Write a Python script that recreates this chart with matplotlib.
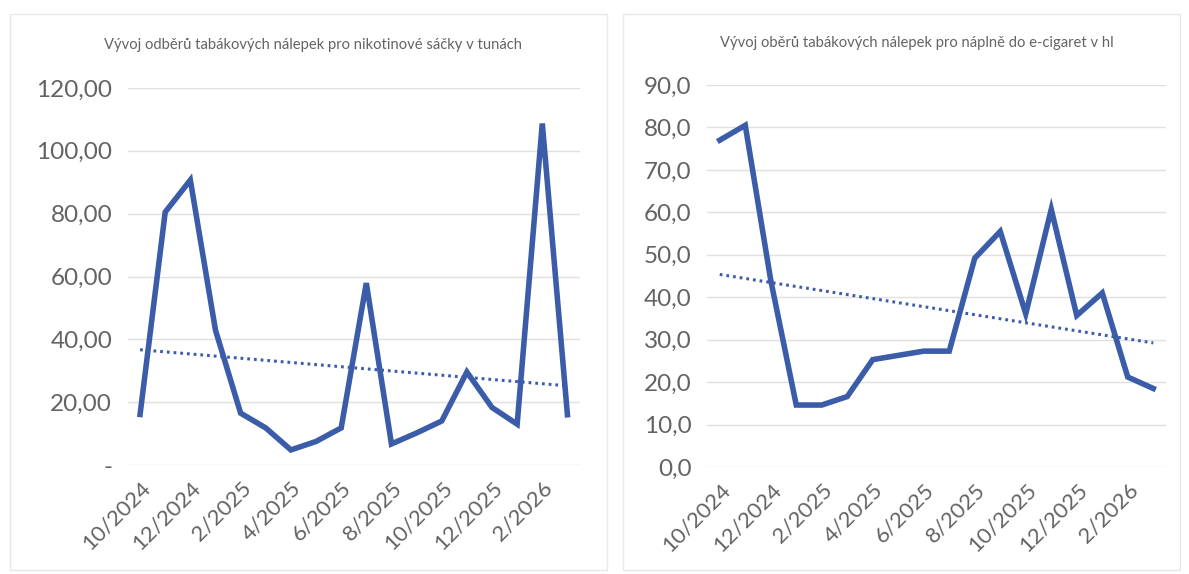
import numpy as np
import matplotlib
matplotlib.use("Agg")
import matplotlib.pyplot as plt
from matplotlib.patches import Rectangle

plt.rcParams['font.family'] = ['Lato', 'DejaVu Sans']

# data: months 10/2024 .. 3/2026
months = ['10/2024', '11/2024', '12/2024', '1/2025', '2/2025', '3/2025',
          '4/2025', '5/2025', '6/2025', '7/2025', '8/2025', '9/2025',
          '10/2025', '11/2025', '12/2025', '1/2026', '2/2026', '3/2026']

sacky = [16.1, 80.5, 90.7, 42.9, 16.5, 11.8, 4.8, 7.5, 11.8, 57.9,
         6.7, 10.2, 14.0, 29.6, 18.3, 13.0, 108.7, 16.0]

napln = [77.0, 80.5, 44.0, 14.6, 14.6, 16.6, 25.3, 26.3, 27.3, 27.3,
         49.2, 55.5, 36.1, 60.7, 35.7, 41.0, 21.2, 18.5]

title_left = 'Vývoj odběrů tabákových nálepek pro nikotinové sáčky v tunách'
title_right = 'Vývoj oběrů tabákových nálepek pro náplně do e-cigaret v hl'

line_col = '#3b5ca9'
text_col = '#636363'
grid_col = '#e0e0e0'

fig = plt.figure(figsize=(11.89, 5.74), dpi=100)
fig.patch.set_facecolor('white')

# faint frames of the two chart objects
fig.patches.append(Rectangle((10/1189, 1-570/574), 597/1189, 556/574,
                             transform=fig.transFigure, fill=False,
                             edgecolor='#e8e8e8', lw=1))
fig.patches.append(Rectangle((623/1189, 1-570/574), 557/1189, 556/574,
                             transform=fig.transFigure, fill=False,
                             edgecolor='#e8e8e8', lw=1))


def draw(ax, vals, ymax, step, fmt, zero_label, title, title_x, title_y):
    x = np.arange(len(vals))
    ax.plot(x, vals, color=line_col, lw=4.0, solid_joinstyle='miter')
    k, b = np.polyfit(x, vals, 1)
    ax.plot(x, k * x + b, color=line_col, lw=2.2, ls=(0, (0.9, 1.3)))
    ax.set_xlim(-0.5, len(vals) - 0.5)
    ax.set_ylim(0, ymax)
    yt = np.arange(0, ymax + step / 2, step)
    ax.set_yticks(yt)
    labels = [fmt.format(v).replace('.', ',') for v in yt]
    if zero_label is not None:
        labels[0] = zero_label
    ax.set_yticklabels(labels, fontsize=17.5, color=text_col)
    ax.set_xticks(x[::2])
    ax.set_xticklabels(months[::2], rotation=45, ha='right',
                       rotation_mode='anchor', fontsize=16, color=text_col)
    ax.tick_params(length=0)
    ax.tick_params(axis='y', pad=11)
    ax.tick_params(axis='x', pad=9)
    ax.grid(axis='y', color=grid_col, lw=1)
    ax.set_axisbelow(True)
    for s in ax.spines.values():
        s.set_visible(False)
    fig.text(title_x, title_y, title, ha='center', va='center',
             fontsize=10.6, color=text_col)


ax1 = fig.add_axes([127.5/1189, 1-465/574, 452.5/1189, 377/574])
draw(ax1, sacky, 120, 20, '{:.2f}', '-', title_left, 313/1189, 1-45/574)

ax2 = fig.add_axes([707/1189, 1-467/574, 459/1189, 382/574])
draw(ax2, napln, 90, 10, '{:.1f}', None, title_right, 917/1189, 1-43/574)

fig.savefig('out.png', dpi=100)
